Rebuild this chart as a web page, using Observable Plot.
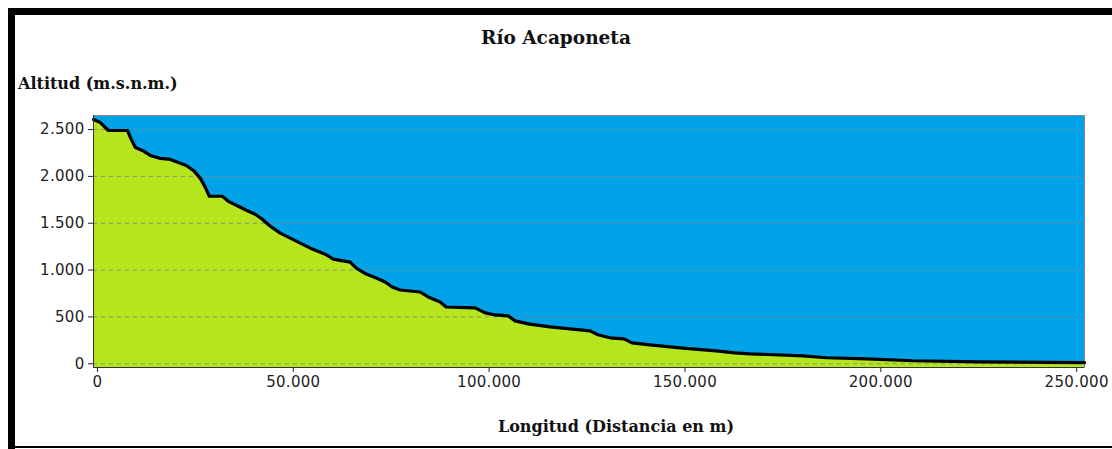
<!DOCTYPE html>
<html>
<head>
<meta charset="utf-8">
<script src="https://cdn.jsdelivr.net/npm/d3@7"></script>
<script src="https://cdn.jsdelivr.net/npm/@observablehq/plot@0.6"></script>
<style>
  html, body { margin: 0; padding: 0; background: #fff; }
  #wrap { position: relative; width: 1112px; height: 449px; overflow: hidden; background: #fff; }
  .bar { position: absolute; background: #000; }
  .serif { position: absolute; font-family: "DejaVu Serif", serif; font-weight: bold; color: #111; white-space: nowrap; }
  #chart { position: absolute; left: 0; top: 100px; }
  #chart svg text { letter-spacing: 0.3px; }
</style>
</head>
<body>
<div id="wrap">
  <div class="bar" style="left:8px; top:8px; width:1104px; height:7px;"></div>
  <div class="bar" style="left:8px; top:8px; width:7px; height:441px;"></div>
  <div class="bar" style="left:8px; top:446px; width:1104px; height:2px;"></div>
  <div class="serif" id="title" style="left:0; width:1112px; text-align:center; top:27px; font-size:18.5px;">Río Acaponeta</div>
  <div class="serif" id="ylab" style="left:18px; top:74px; font-size:16px;">Altitud (m.s.n.m.)</div>
  <div class="serif" id="xlab" style="left:0; width:1232px; text-align:center; top:417px; font-size:16px;">Longitud (Distancia en m)</div>
  <div id="chart"></div>
</div>
<script>
const distance = [-1000, 765, 1786, 2806, 7653, 8673, 9694, 11480, 13520, 16070, 18620, 20660, 22700, 24740, 26280, 27550, 28570, 31890, 33420, 35970, 38010, 40310, 42090, 44130, 46680, 49230, 51780, 54850, 58160, 60200, 64540, 66070, 68620, 71170, 73470, 75250, 77300, 82400, 84440, 87500, 89030, 96430, 98980, 101530, 104850, 106630, 109950, 115560, 120660, 125760, 127800, 130870, 134440, 136480, 141070, 148720, 157910, 162750, 166580, 180100, 186220, 196430, 208160, 225250, 252000];
const altitude = [2607, 2575, 2532, 2490, 2490, 2394, 2309, 2277, 2224, 2192, 2181, 2149, 2117, 2054, 1979, 1883, 1788, 1788, 1734, 1681, 1639, 1596, 1543, 1468, 1394, 1341, 1287, 1224, 1170, 1117, 1085, 1021, 958, 915, 872, 819, 787, 766, 713, 660, 606, 596, 543, 521, 511, 458, 426, 394, 372, 351, 309, 277, 266, 223, 202, 170, 138, 117, 106, 85, 64, 53, 32, 21, 11];
const xTicks = [0, 50000, 100000, 150000, 200000, 250000];
const yTicks = [0, 500, 1000, 1500, 2000, 2500];
const xDomain = [-1000, 252000];
const yDomain = [-40, 2650];

const data = distance.map((d, i) => ({d, a: altitude[i]}));
const fmt = v => d3.format(",")(v).replace(/,/g, ".");

const chart = Plot.plot({
  width: 1112,
  height: 300,
  marginLeft: 93,
  marginRight: 28,
  marginTop: 15,
  marginBottom: 33,
  style: {fontFamily: "DejaVu Sans, sans-serif", fontSize: "15px", color: "#222", background: "transparent"},
  x: {domain: xDomain, ticks: xTicks, tickFormat: fmt, tickSize: 5, tickPadding: 4, label: null},
  y: {domain: yDomain, ticks: yTicks, tickFormat: fmt, tickSize: 5, tickPadding: 4, label: null},
  marks: [
    Plot.frame({fill: "#00A2E8", stroke: "#8a8a8a"}),
    Plot.areaY(data, {x: "d", y1: () => yDomain[0], y2: "a", fill: "#B5E61D"}),
    Plot.ruleY(yTicks, {stroke: "#8a8a8a", strokeDasharray: "4,4", strokeWidth: 1}),
    Plot.line(data, {x: "d", y: "a", stroke: "#000", strokeWidth: 3.2}),
    Plot.ruleX([xDomain[0]], {stroke: "#333"}),
    Plot.ruleY([yDomain[0]], {stroke: "#333"})
  ]
});
document.getElementById("chart").appendChild(chart);
</script>
</body>
</html>
